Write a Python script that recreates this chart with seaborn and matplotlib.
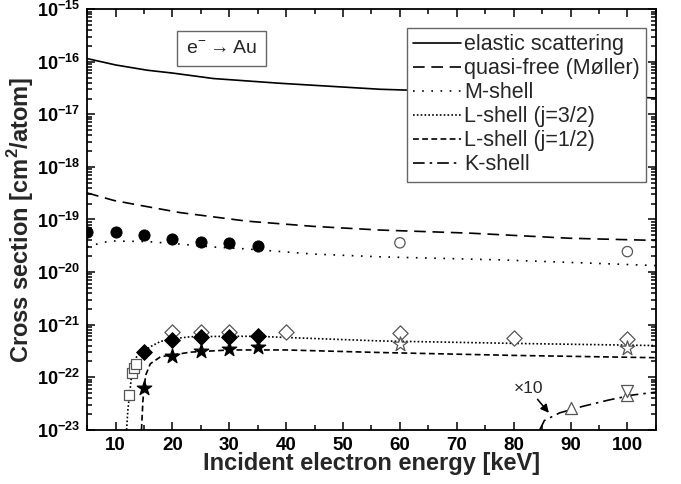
import numpy as np
import matplotlib
matplotlib.use('Agg')
import matplotlib.pyplot as plt
from matplotlib.ticker import LogLocator, FuncFormatter, NullFormatter, MultipleLocator, FixedLocator
import seaborn as sns

# --- curves ---
e_el = [5, 10, 15.6, 20, 27.2, 38.9, 56.5, 80, 105]
el = [1.15e-16, 8.7e-17, 6.9e-17, 6.1e-17, 4.8e-17, 3.9e-17, 3.0e-17, 2.5e-17, 2.05e-17]

e_qf = [5, 9.7, 15, 21.4, 33.1, 44.8, 56.5, 72.3, 89.8, 105]
qf = [3.2e-19, 2.3e-19, 1.8e-19, 1.35e-19, 9.3e-20, 7.4e-20, 6.3e-20, 5.5e-20, 4.4e-20, 4.0e-20]

e_m = [5, 6.2, 8, 9.7, 15.6, 21.4, 27.2, 33.1, 44.8, 56.5, 78, 105]
m_sh = [3.0e-20, 3.3e-20, 3.7e-20, 3.9e-20, 3.8e-20, 3.4e-20, 3.0e-20, 2.75e-20, 2.2e-20, 1.95e-20, 1.7e-20, 1.33e-20]

e_l3 = [11.93, 12.16, 12.45, 12.75, 13.2, 13.8, 15.0, 16.1, 17.9, 19.6, 23.2, 30, 35, 40, 50, 56.5, 80, 105]
l3 = [1.0e-23, 2.4e-23, 4.6e-23, 9.5e-23, 1.8e-22, 2.6e-22, 3.1e-22, 3.8e-22, 4.8e-22, 5.3e-22,
      5.9e-22, 6.0e-22, 6.0e-22, 5.7e-22, 5.2e-22, 4.9e-22, 4.4e-22, 4.0e-22]

e_l12 = [14.55, 14.8, 15.0, 15.3, 16.1, 17.9, 20, 23.2, 30, 40, 56.5, 80, 105]
l12 = [1.0e-23, 3.5e-23, 6.3e-23, 1.1e-22, 1.8e-22, 2.45e-22, 2.65e-22, 3.0e-22, 3.3e-22, 3.3e-22,
       2.95e-22, 2.6e-22, 2.35e-22]

e_k = [84.6, 85.4, 88.1, 92.2, 96.8, 101, 105]
k_sh = [1.0e-23, 1.5e-23, 2.1e-23, 2.8e-23, 3.7e-23, 4.6e-23, 5.2e-23]

# --- measured points ---
e_m_full = [5, 10, 15, 20, 25, 30, 35]
m_full = [5.9e-20, 5.9e-20, 5.0e-20, 4.2e-20, 3.8e-20, 3.6e-20, 3.2e-20]
e_m_open = [60, 100]
m_open = [3.6e-20, 2.45e-20]

e_sq = [12.4, 12.9, 13.2, 13.5]
sq = [4.6e-23, 1.22e-22, 1.5e-22, 1.8e-22]
e_dia_full = [15, 20, 25, 30, 35]
dia_full = [3.0e-22, 5.1e-22, 5.8e-22, 5.8e-22, 6.0e-22]
e_dia_open = [20, 25, 30, 40, 60, 80, 100]
dia_open = [7.4e-22, 7.4e-22, 7.4e-22, 7.1e-22, 6.8e-22, 5.6e-22, 5.4e-22]

e_star_full = [15, 20, 25, 30, 35]
star_full = [6.3e-23, 2.5e-22, 3.2e-22, 3.5e-22, 3.8e-22]
e_star_open = [60, 100]
star_open = [4.3e-22, 3.6e-22]

e_tri_up = [90, 100]
tri_up = [2.6e-23, 4.6e-23]
e_tri_dn = [100]
tri_dn = [5.5e-23]

x_ticks = [10, 20, 30, 40, 50, 60, 70, 80, 90, 100]
y_ticks = [1e-23, 1e-22, 1e-21, 1e-20, 1e-19, 1e-18, 1e-17, 1e-16, 1e-15]

sns.set_style('ticks')
plt.rcParams['font.family'] = ['Liberation Sans', 'DejaVu Sans']
plt.rcParams['mathtext.fontset'] = 'custom'
plt.rcParams['mathtext.rm'] = 'Liberation Sans'
plt.rcParams['mathtext.bf'] = 'Liberation Sans:bold'

fig, ax = plt.subplots(figsize=(6.81, 4.84), dpi=100)
fig.subplots_adjust(left=0.128, right=0.963, top=0.981, bottom=0.112)

lw = 1.2
sns.lineplot(x=e_el, y=el, ax=ax, color='k', lw=lw, linestyle='-', label='elastic scattering')
sns.lineplot(x=e_qf, y=qf, ax=ax, color='k', lw=lw, linestyle=(0, (7, 4)), label='quasi-free (Møller)')
sns.lineplot(x=e_m, y=m_sh, ax=ax, color='k', lw=lw, linestyle=(0, (1, 4.5)), label='M-shell')
sns.lineplot(x=e_l3, y=l3, ax=ax, color='k', lw=lw, linestyle=(0, (1, 1.3)), label='L-shell (j=3/2)')
sns.lineplot(x=e_l12, y=l12, ax=ax, color='k', lw=lw, linestyle=(0, (3.5, 2)), label='L-shell (j=1/2)')
sns.lineplot(x=e_k, y=k_sh, ax=ax, color='k', lw=lw, linestyle=(0, (7, 3, 1.5, 3)), label='K-shell')

grey = '#555555'
sns.scatterplot(x=e_m_full, y=m_full, ax=ax, marker='o', s=65, color='k', edgecolor='k', zorder=4)
sns.scatterplot(x=e_m_open, y=m_open, ax=ax, marker='o', s=55, fc='none', ec=grey, lw=0.9, zorder=4)
sns.scatterplot(x=e_sq, y=sq, ax=ax, marker='s', s=55, fc='white', ec=grey, lw=0.9, zorder=4)
sns.scatterplot(x=e_dia_open, y=dia_open, ax=ax, marker='D', s=60, fc='white', ec=grey, lw=0.9, zorder=4)
sns.scatterplot(x=e_dia_full, y=dia_full, ax=ax, marker='D', s=65, color='k', edgecolor='k', zorder=5)
sns.scatterplot(x=e_star_full, y=star_full, ax=ax, marker='*', s=120, color='k', edgecolor='k', zorder=5)
sns.scatterplot(x=e_star_open, y=star_open, ax=ax, marker='*', s=120, fc='white', ec=grey, lw=0.9, zorder=4)
sns.scatterplot(x=e_tri_up, y=tri_up, ax=ax, marker='^', s=75, fc='white', ec=grey, lw=0.9, zorder=4)
sns.scatterplot(x=e_tri_dn, y=tri_dn, ax=ax, marker='v', s=75, fc='white', ec=grey, lw=0.9, zorder=4)

ax.set_yscale('log')
ax.set_xlim(5, 105)
ax.set_ylim(1e-23, 1e-15)

ax.xaxis.set_major_locator(FixedLocator(x_ticks))
ax.xaxis.set_minor_locator(MultipleLocator(5))
ax.yaxis.set_major_locator(FixedLocator(y_ticks))
ax.yaxis.set_minor_locator(LogLocator(base=10, subs=np.arange(2, 10), numticks=20))
ax.yaxis.set_minor_formatter(NullFormatter())
ax.yaxis.set_major_formatter(FuncFormatter(lambda v, p: r'$\mathbf{10^{%d}}$' % int(round(np.log10(v)))))
ax.xaxis.set_major_formatter(FuncFormatter(lambda v, p: '%d' % v))

ax.tick_params(which='both', direction='in', top=True, right=True, width=1.1, colors='k')
ax.tick_params(which='major', length=6, pad=5)
ax.tick_params(axis='x', which='major', labelsize=13.5)
ax.tick_params(axis='y', which='major', labelsize=13)
for lab in ax.get_xticklabels():
    lab.set_fontweight('bold')
for sp in ax.spines.values():
    sp.set_linewidth(1.3)
    sp.set_color('k')
ax.tick_params(which='minor', length=3.5)

ax.set_xlabel('Incident electron energy [keV]', fontsize=17, fontweight='bold', labelpad=-1)
ax.set_ylabel(r'Cross section [cm$^\mathbf{2}$/atom]', fontsize=17, fontweight='bold', labelpad=1)

handles, labels = ax.get_legend_handles_labels()
leg = ax.legend(handles, labels, loc='upper right', bbox_to_anchor=(0.983, 0.956), borderaxespad=0,
                fontsize=15.5, frameon=True, fancybox=False, framealpha=1, edgecolor='#666666',
                handlelength=2.2, handletextpad=0.15, labelspacing=0.14, borderpad=0.3)
leg.get_frame().set_linewidth(1.0)

ax.text(0.236, 0.907, r'e$^{-}\rightarrow$Au', transform=ax.transAxes, ha='center', va='center',
        fontsize=14, bbox=dict(boxstyle='square,pad=0.45', fc='white', ec='#666666', lw=1.0))

ax.annotate('×10', xy=(86.2, 2.1e-23), xytext=(82.6, 6.1e-23), ha='center', va='center', fontsize=12.5,
            arrowprops=dict(arrowstyle='-|>', color='k', lw=1.1, mutation_scale=12, shrinkA=0, shrinkB=0))

fig.savefig('out.png', dpi=100)
